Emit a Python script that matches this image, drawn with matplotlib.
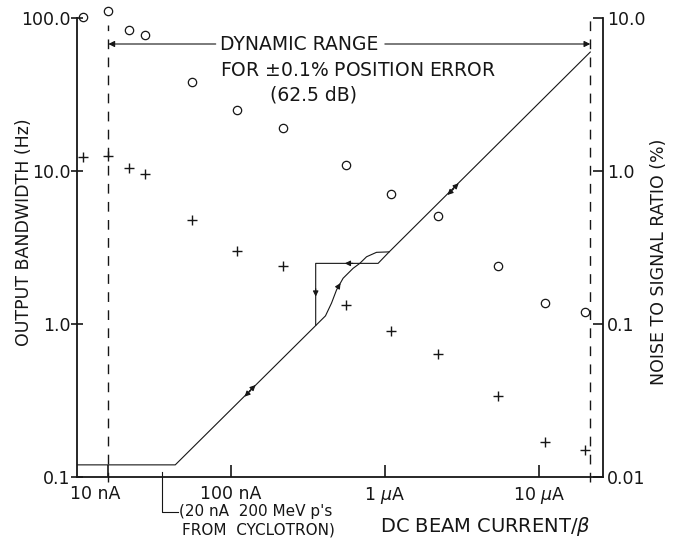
import matplotlib
matplotlib.use('Agg')
import matplotlib.pyplot as plt
from matplotlib.ticker import NullLocator
from matplotlib.transforms import ScaledTranslation, blended_transform_factory

plt.rcParams['font.family'] = 'DejaVu Sans'
plt.rcParams['mathtext.fontset'] = 'dejavusans'

# beam current (nA) at which noise was measured
current_nA = [11, 16, 22, 28, 56, 110, 220, 560, 1100, 2200, 5400, 11000, 20000]
# noise to signal ratio (%), two sets of measurements
noise_circle_pct = [10.1, 11.1, 8.4, 7.7, 3.8, 2.5, 1.9, 1.09, 0.71, 0.51, 0.24, 0.138, 0.119]
noise_plus_pct = [1.23, 1.25, 1.04, 0.955, 0.48, 0.30, 0.24, 0.134, 0.090, 0.064, 0.034, 0.017, 0.015]

# output bandwidth curve (Hz) vs current (nA), increasing branch
bw_up_current = [10, 43.7, 412, 451, 486, 536, 622, 688, 761, 883, 1067, 21500]
bw_up_hz = [0.12, 0.12, 1.13, 1.37, 1.67, 1.99, 2.31, 2.49, 2.75, 2.94, 2.96, 59.9]
# decreasing branch of the hysteresis loop
bw_down_current = [1067, 904, 356, 356]
bw_down_hz = [2.96, 2.49, 2.49, 0.98]

# dynamic range limits (nA)
range_lo = 16.1
range_hi = 21500

x_ticks = [16.1, 100, 1000, 10000]
x_labels = ['10 nA', '100 nA', '1 $\\mu$A', '10 $\\mu$A']
y_ticks = [0.1, 1, 10, 100]
y_labels = ['0.1', '1.0', '10.0', '100.0']
y2_ticks = [0.01, 0.1, 1, 10]
y2_labels = ['0.01', '0.1', '1.0', '10.0']

ink = '#161616'

fig = plt.figure(figsize=(6.77, 5.40), dpi=100)
ax = fig.add_axes([0.1130, 0.1167, 0.7777, 0.85])
ax2 = ax.twinx()

ax.set_xscale('log')
ax.set_yscale('log')
ax2.set_yscale('log')
ax.set_xlim(10, 26000)
ax.set_ylim(0.1, 100)
ax2.set_ylim(0.01, 10)

# bandwidth curve
ax.plot(bw_up_current, bw_up_hz, color=ink, lw=0.8)
ax.plot(bw_down_current, bw_down_hz, color=ink, lw=0.8)

# direction arrows on the curve (head, tail)
arrows = [
    ((123, 0.335), (135, 0.368)),
    ((145, 0.399), (132, 0.363)),
    ((2550, 6.97), (2800, 7.65)),
    ((3010, 8.31), (2750, 7.58)),
    ((550, 2.49), (620, 2.49)),
    ((356, 1.51), (356, 1.70)),
    ((516, 1.85), (500, 1.76)),
]
for head, tail in arrows:
    ax.annotate('', xy=head, xytext=tail,
                arrowprops=dict(arrowstyle='-|>', color=ink, lw=0.8,
                                mutation_scale=8, shrinkA=0, shrinkB=0))

# noise measurements
ax2.plot(current_nA, noise_circle_pct, 'o', mfc='none', mec=ink, ms=6, mew=0.9, clip_on=False)
ax2.plot(current_nA, noise_plus_pct, '+', color=ink, ms=7, mew=1.0, clip_on=False)

# dynamic range markers
ax.axvline(range_lo, ymin=-0.012, ymax=0.985, color=ink, lw=1.0, ls=(0, (7, 6)), clip_on=False)
ax.axvline(range_hi, ymin=-0.012, ymax=1.011, color=ink, lw=1.0, ls=(0, (7, 6)), clip_on=False)
ax.annotate('', xy=(range_lo, 67.6), xytext=(80, 67.6),
            arrowprops=dict(arrowstyle='-|>', color=ink, lw=0.8, mutation_scale=9,
                            shrinkA=0, shrinkB=0))
ax.annotate('', xy=(range_hi, 67.6), xytext=(1000, 67.6),
            arrowprops=dict(arrowstyle='-|>', color=ink, lw=0.8, mutation_scale=9,
                            shrinkA=0, shrinkB=0))
ax.text(85, 67.6, 'DYNAMIC RANGE', fontsize=13.5, color=ink, ha='left', va='center')
ax.text(85, 45.7, 'FOR $\\pm$0.1% POSITION ERROR', fontsize=13.5, color=ink, ha='left', va='center')
ax.text(179, 31.4, '(62.5 dB)', fontsize=13.5, color=ink, ha='left', va='center')

# cyclotron note below the axis
trans = blended_transform_factory(ax.transData, ax.transAxes)
ax.plot([35.6, 35.6, 45.5], [0.011, -0.076, -0.076], color=ink, lw=0.8,
        transform=trans, clip_on=False)
ax.text(46.5, -0.076, "(20 nA  200 MeV p's", fontsize=11, color=ink,
        ha='left', va='center', transform=trans)
ax.text(48.5, -0.115, 'FROM  CYCLOTRON)', fontsize=11, color=ink,
        ha='left', va='center', transform=trans)

# axes styling
for a in (ax, ax2):
    a.spines['top'].set_visible(False)
    for s in a.spines.values():
        s.set_linewidth(1.3)
        s.set_color(ink)
ax.spines['right'].set_visible(False)
ax2.spines['left'].set_visible(False)
ax2.spines['bottom'].set_visible(False)

ax.set_xticks(x_ticks, x_labels)
ax.xaxis.set_minor_locator(NullLocator())
ax.set_yticks(y_ticks, y_labels)
ax.yaxis.set_minor_locator(NullLocator())
ax2.set_yticks(y2_ticks, y2_labels)
ax2.yaxis.set_minor_locator(NullLocator())

ax.tick_params(axis='x', direction='in', length=8.5, width=1.2, pad=6, labelsize=12.5, colors=ink)
ax.tick_params(axis='y', direction='inout', length=9, width=1.2, pad=0, labelsize=12.5, colors=ink)
ax2.tick_params(axis='y', direction='in', length=7, width=1.2, pad=3, labelsize=12.5, colors=ink)

# the "10 nA" label sits a little left of its tick in the original
lab = ax.xaxis.get_major_ticks()[0].label1
lab.set_transform(lab.get_transform() + ScaledTranslation(-0.13, 0, fig.dpi_scale_trans))

ax.set_xlabel('DC BEAM CURRENT/$\\beta$', fontsize=14, color=ink)
ax.set_ylabel('OUTPUT BANDWIDTH (Hz)', fontsize=12.5, color=ink)
ax2.set_ylabel('NOISE TO SIGNAL RATIO (%)', fontsize=12.5, color=ink)
ax.xaxis.set_label_coords(0.776, -0.083)
ax.yaxis.set_label_coords(-0.083, 0.534)
ax2.yaxis.set_label_coords(1.089, 0.468)

fig.savefig('out.png', dpi=100, facecolor='white')
